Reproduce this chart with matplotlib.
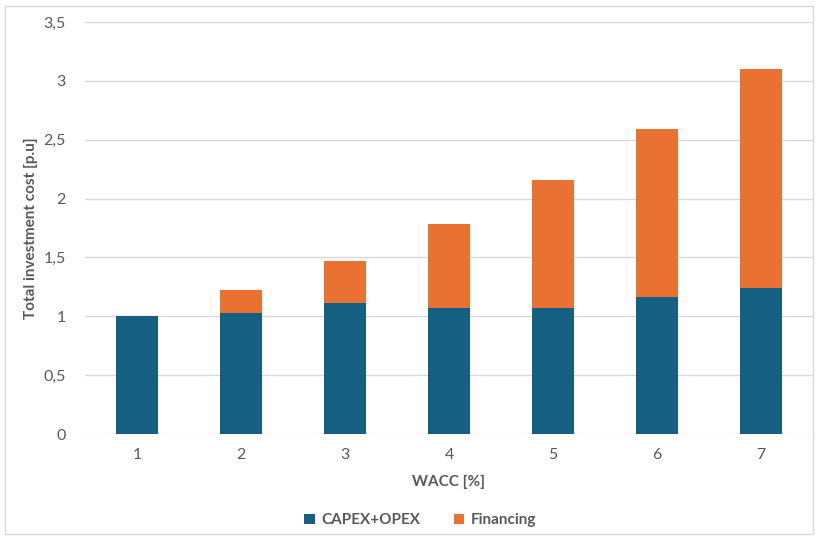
import matplotlib.pyplot as plt
from matplotlib.patches import Rectangle
from matplotlib.ticker import FuncFormatter, MultipleLocator

wacc = ["1", "2", "3", "4", "5", "6", "7"]
capex_opex = [1.00, 1.03, 1.11, 1.07, 1.07, 1.16, 1.24]
financing = [0.00, 0.19, 0.36, 0.71, 1.09, 1.43, 1.86]

BLUE = "#156082"
ORANGE = "#E97132"
TEXT = "#595959"
GRID = "#D9D9D9"

plt.rcParams["font.family"] = ["Lato", "DejaVu Sans"]

fig = plt.figure(figsize=(8.19, 5.38), dpi=100)
ax = fig.add_axes([85 / 819, 104 / 538, 728 / 819, 412 / 538])

x = range(len(wacc))
ax.bar(x, capex_opex, width=0.4, color=BLUE, label="CAPEX+OPEX", zorder=3)
ax.bar(x, financing, width=0.4, bottom=capex_opex, color=ORANGE,
       label="Financing", zorder=3)

ax.set_xlim(-0.5, len(wacc) - 0.5)
ax.set_ylim(0, 3.5)
ax.yaxis.set_major_locator(MultipleLocator(0.5))
ax.yaxis.set_major_formatter(
    FuncFormatter(lambda v, _: f"{v:g}".replace(".", ","))
)
ax.set_xticks(list(x))
ax.set_xticklabels(wacc)
ax.grid(axis="y", color=GRID, linewidth=1, zorder=0)
for side in ["top", "right", "left", "bottom"]:
    ax.spines[side].set_visible(False)
ax.tick_params(axis="both", length=0, labelsize=11.5, colors=TEXT)
ax.tick_params(axis="y", pad=14)
ax.tick_params(axis="x", pad=10)

ax.set_xlabel("WACC [%]", fontsize=11, fontweight="bold", color=TEXT,
              labelpad=9)
ax.set_ylabel("Total investment cost [p.u]", fontsize=11,
              fontweight="bold", color=TEXT, labelpad=4)

leg = fig.legend(loc="center", bbox_to_anchor=(0.513, 0.033), ncol=2,
                 frameon=False, fontsize=11, handlelength=0.7,
                 handleheight=0.7, columnspacing=2.2, handletextpad=0.4)
for t in leg.get_texts():
    t.set_color(TEXT)
    t.set_fontweight("bold")

fig.patches.append(Rectangle((5 / 819, 4 / 538), 808 / 819, 528 / 538,
                             transform=fig.transFigure, fill=False,
                             edgecolor=GRID, linewidth=1))

fig.savefig("out.png", dpi=100)
